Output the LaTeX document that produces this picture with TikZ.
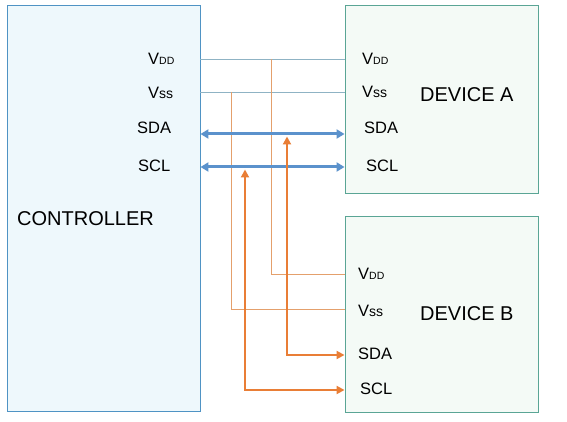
\documentclass[tikz,border=0pt]{standalone}
\usepackage{fontspec}
\setmainfont{Liberation Sans}
\usetikzlibrary{arrows.meta,positioning,calc}
\definecolor{ctrlfill}{HTML}{EEF8FC}
\definecolor{ctrlline}{HTML}{4F93C4}
\definecolor{devfill}{HTML}{F4FAF6}
\definecolor{devline}{HTML}{5AA595}
\definecolor{busblue}{HTML}{5B92CC}
\definecolor{busorange}{HTML}{E97E36}
\definecolor{pwrorange}{HTML}{E4A06C}
\definecolor{pwrgray}{HTML}{8FB3C4}
\newcommand{\pinvdd}{V{\fontsize{10.5}{10.5}\selectfont DD}}
\newcommand{\pinvss}{V{\fontsize{14}{14}\selectfont ss}}

\begin{document}
\begin{tikzpicture}[
    x=1pt,y=-1pt,
    ctrlbox/.style = {rectangle,draw=ctrlline,fill=ctrlfill,line width=0.9pt,inner sep=0pt},
    devbox/.style  = {rectangle,draw=devline,fill=devfill,line width=0.9pt,inner sep=0pt},
    ttl/.style     = {font=\fontsize{20}{20}\selectfont,anchor=west,inner sep=0pt},
    pin/.style     = {font=\fontsize{16.5}{16.5}\selectfont,anchor=west,inner sep=0pt},
    pwr/.style     = {line width=0.9pt},
    bus/.style     = {{Triangle[length=8pt,width=9pt]}-{Triangle[length=8pt,width=9pt]},
                      busblue,line width=3pt},
    sig/.style     = {{Triangle[length=8pt,width=8pt]}-{Triangle[length=8pt,width=8pt]},
                      busorange,line width=2.6pt},
  ]
  \useasboundingbox (0,0) rectangle (567,422);

  % boxes
  \node[ctrlbox,minimum width=193pt,minimum height=406pt] (ctrl) at (103.5,208) {};
  \node[devbox,minimum width=193pt,minimum height=188pt]  (devA) at (441.5,99) {};
  \node[devbox,minimum width=193pt,minimum height=196pt]  (devB) at (441.5,314) {};

  \node[ttl] (tctrl) at (17,219)  {CONTROLLER};
  \node[ttl] (tdevA) at (420,95)  {DEVICE A};
  \node[ttl] (tdevB) at (420,314) {DEVICE B};

  % pin labels
  \node[pin] (c1) at (148,59)  {\pinvdd};
  \node[pin] (c2) at (148,93)  {\pinvss};
  \node[pin] (c3) at (137,128) {SDA};
  \node[pin] (c4) at (138,166) {SCL};

  \node[pin] (a1) at (362,59)  {\pinvdd};
  \node[pin] (a2) at (362,92)  {\pinvss};
  \node[pin] (a3) at (364,128) {SDA};
  \node[pin] (a4) at (366,166) {SCL};

  \node[pin] (b1) at (358,274) {\pinvdd};
  \node[pin] (b2) at (358,311) {\pinvss};
  \node[pin] (b3) at (358,354) {SDA};
  \node[pin] (b4) at (360,389) {SCL};

  % pin points on the box edges
  \foreach \n/\y in {VDD/59,VSS/92,SDA/134,SCL/167}{
    \coordinate (c\n) at (ctrl.east |- 0,\y);
    \coordinate (a\n) at (devA.west |- 0,\y);
  }
  \foreach \n/\y in {VDD/274,VSS/309,SDA/355,SCL/390}
    \coordinate (b\n) at (devB.west |- 0,\y);

  % taps onto the bus
  \coordinate (tVDD) at (271,59);
  \coordinate (tVSS) at (231,92);
  \coordinate (tSDA) at (287,136.5);
  \coordinate (tSCL) at (245,169.5);

  \draw[pwr,pwrgray] (cVDD) -- (aVDD);
  \draw[pwr,pwrgray] (cVSS) -- (aVSS);
  \draw[pwr,pwrorange] (tVDD) |- (bVDD);
  \draw[pwr,pwrorange] (tVSS) |- (bVSS);

  \draw[bus] (cSDA) -- (aSDA);
  \draw[bus] (cSCL) -- (aSCL);

  \draw[sig] (tSDA) |- (bSDA);
  \draw[sig] (tSCL) |- (bSCL);

\end{tikzpicture}
\end{document}
